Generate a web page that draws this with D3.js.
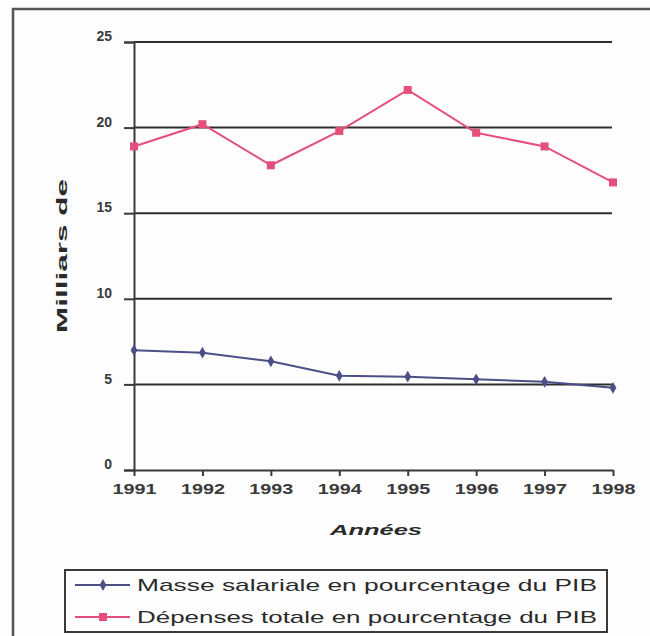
<!DOCTYPE html>
<html>
<head>
<meta charset="utf-8">
<script src="https://cdn.jsdelivr.net/npm/d3@7"></script>
<style>
html,body{margin:0;padding:0;background:#fdfdfd;}
svg{display:block;}
</style>
</head>
<body>
<svg id="chart" width="650" height="636"></svg>
<script>
const years = ["1991","1992","1993","1994","1995","1996","1997","1998"];
const masseSalariale = [7.0, 6.85, 6.35, 5.5, 5.45, 5.3, 5.15, 4.8];
const depensesTotale = [18.9, 20.2, 17.8, 19.8, 22.2, 19.7, 18.9, 16.8];
const yTicks = [0, 5, 10, 15, 20, 25];
const seriesNames = ["Masse salariale en pourcentage du PIB", "Dépenses totale en pourcentage du PIB"];

const svg = d3.select("#chart");
const font = "Arial, 'Liberation Sans', sans-serif";

// outer frame
svg.append("rect").attr("x", 13).attr("y", 9).attr("width", 660).attr("height", 660)
  .attr("fill", "none").attr("stroke", "#555").attr("stroke-width", 2.5);

const x = d3.scalePoint().domain(years).range([134, 613]);
const y = d3.scaleLinear().domain([0, 25]).range([470, 42]);

// horizontal grid lines
svg.append("g").selectAll("line").data(yTicks.filter(d => d > 0)).join("line")
  .attr("x1", 134).attr("x2", 612)
  .attr("y1", d => y(d)).attr("y2", d => y(d))
  .attr("stroke", "#2e2e2e").attr("stroke-width", 2);

// y axis
const yAxis = d3.axisLeft(y).tickValues(yTicks).tickSize(10).tickPadding(12).tickFormat(d3.format("d"));
const gy = svg.append("g").attr("transform", "translate(134,0)").call(yAxis);
gy.select(".domain").attr("stroke", "#3a3a3a").attr("stroke-width", 2);
gy.selectAll(".tick line").attr("stroke", "#3a3a3a").attr("stroke-width", 2);
gy.selectAll(".tick text").attr("font-family", font).attr("font-size", 14).attr("font-weight", "bold")
  .attr("fill", "#3a3a3a").attr("dy", "-0.1em");

// x axis
const xAxis = d3.axisBottom(x).tickSize(6).tickPadding(8).tickSizeOuter(0);
const gx = svg.append("g").attr("transform", "translate(0,470)").call(xAxis);
gx.select(".domain").attr("stroke", "#3a3a3a").attr("stroke-width", 2);
gx.selectAll(".tick text").attr("font-family", font).attr("font-size", 14).attr("font-weight", "bold")
  .attr("fill", "#3a3a3a").attr("textLength", 44).attr("lengthAdjust", "spacingAndGlyphs");
gx.selectAll(".tick line").attr("stroke", "#3a3a3a").attr("stroke-width", 2);

// axis titles
svg.append("text").attr("x", 376).attr("y", 535).attr("text-anchor", "middle")
  .attr("font-family", font).attr("font-size", 15).attr("font-weight", "bold").attr("font-style", "italic")
  .attr("fill", "#2a2a2a").attr("textLength", 92).attr("lengthAdjust", "spacingAndGlyphs").text("Années");
svg.append("text").attr("transform", "translate(67,256) rotate(-90)").attr("text-anchor", "middle")
  .attr("font-family", font).attr("font-size", 15).attr("font-weight", "bold")
  .attr("fill", "#2a2a2a").attr("textLength", 154).attr("lengthAdjust", "spacingAndGlyphs")
  .text("Milliars de");

const line = d3.line().x((d, i) => x(years[i])).y(d => y(d));
const blue = "#4b4f86", red = "#e4507c";

// blue series
svg.append("path").datum(masseSalariale).attr("d", line).attr("fill", "none")
  .attr("stroke", blue).attr("stroke-width", 2);
svg.append("g").selectAll("path").data(masseSalariale).join("path")
  .attr("d", d3.symbol(d3.symbolDiamond, 40))
  .attr("transform", (d, i) => `translate(${x(years[i])},${y(d)})`)
  .attr("fill", blue);

// red series
svg.append("path").datum(depensesTotale).attr("d", line).attr("fill", "none")
  .attr("stroke", red).attr("stroke-width", 2);
svg.append("g").selectAll("rect").data(depensesTotale).join("rect")
  .attr("x", (d, i) => x(years[i]) - 4).attr("y", d => y(d) - 4)
  .attr("width", 8).attr("height", 8).attr("fill", red);

// legend
const lg = svg.append("g");
lg.append("rect").attr("x", 65).attr("y", 570).attr("width", 542).attr("height", 62)
  .attr("fill", "#fdfdfd").attr("stroke", "#3a3a3a").attr("stroke-width", 2);
const legendItems = [{name: seriesNames[0], color: blue, shape: "diamond"}, {name: seriesNames[1], color: red, shape: "square"}];
const li = lg.selectAll("g.item").data(legendItems).join("g").attr("class", "item")
  .attr("transform", (d, i) => `translate(0,${585 + i * 32})`);
li.append("line").attr("x1", 75).attr("x2", 130).attr("stroke", d => d.color).attr("stroke-width", 2);
li.each(function(d) {
  const g = d3.select(this);
  if (d.shape === "diamond") {
    g.append("path").attr("d", d3.symbol(d3.symbolDiamond, 40)).attr("transform", "translate(103,0)").attr("fill", d.color);
  } else {
    g.append("rect").attr("x", 99).attr("y", -4).attr("width", 8).attr("height", 8).attr("fill", d.color);
  }
});
li.append("text").attr("x", 137).attr("y", 6).attr("font-family", font).attr("font-size", 17)
  .attr("fill", "#2a2a2a").attr("textLength", 460).attr("lengthAdjust", "spacingAndGlyphs")
  .text(d => d.name);
</script>
</body>
</html>
